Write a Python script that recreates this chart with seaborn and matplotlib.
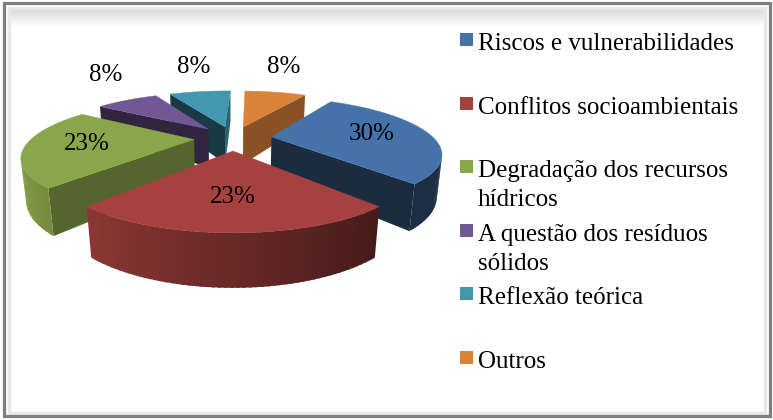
import numpy as np
import matplotlib.pyplot as plt
from matplotlib.patches import Polygon, Rectangle
import seaborn as sns

# data
categories = ["Riscos e vulnerabilidades", "Conflitos socioambientais",
              "Degradação dos recursos hídricos", "A questão dos resíduos sólidos",
              "Reflexão teórica", "Outros"]
legend_lines = [["Riscos e vulnerabilidades"], ["Conflitos socioambientais"],
                ["Degradação dos recursos", "hídricos"], ["A questão dos resíduos", "sólidos"],
                ["Reflexão teórica"], ["Outros"]]
shares = [30, 23, 23, 8, 8, 8]

sns.set_theme(style="white")
top_colors = sns.color_palette(["#4572A8", "#A5413E", "#89A64A", "#715894", "#4198AF", "#D9833A"])
plt.rcParams["font.family"] = ["Liberation Serif", "DejaVu Serif"]

# 3d pie geometry (units of pie radius)
START_ANGLE = 59.4      # slices run clockwise from here
EXPLODE = 0.24
HEIGHT = 0.26
EL = np.radians(18.3)   # camera elevation
DIST = 3.51             # camera distance
SCALE = 162
CX, CY = 233, 138
CAM = np.array([0, -DIST * np.cos(EL), DIST * np.sin(EL)])


def project(X, Y, Z):
    X, Y, Z = np.broadcast_arrays(np.asarray(X, float), np.asarray(Y, float), np.asarray(Z, float))
    yv = Y * np.sin(EL) + Z * np.cos(EL)
    zv = DIST + Y * np.cos(EL) - Z * np.sin(EL)
    return CX + SCALE * DIST * X / zv, CY - SCALE * DIST * yv / zv


def shade(rgb, f):
    return tuple(np.clip(np.array(rgb) * f, 0, 1))


fig = plt.figure(figsize=(7.73, 4.2), dpi=100)
ax = fig.add_axes([0, 0, 1, 1])
ax.set_xlim(0, 773)
ax.set_ylim(420, 0)
ax.axis("off")

# chart frame with soft inner shadow
grad = np.linspace(1, 0, 40).reshape(-1, 1)
ax.imshow(np.dstack([np.full_like(grad, 0.84)] * 3 + [grad]), extent=(8, 765, 27, 7),
          aspect="auto", interpolation="bilinear", zorder=0)
ax.add_patch(Rectangle((8.5, 7.5), 756, 405, fill=False, ec="#e8e8e8", lw=2.5, zorder=1))
ax.add_patch(Rectangle((3.5, 2.5), 766, 413.5, fill=False, ec="#7f7f7f", lw=2.3, zorder=2))

total = sum(shares)
sides, tops, labels = [], [], []
a_start = START_ANGLE
for value, col in zip(shares, top_colors):
    a1 = a_start
    a2 = a_start - value / total * 360
    a_start = a2
    mid = np.radians((a1 + a2) / 2)
    ox, oy = EXPLODE * np.cos(mid), EXPLODE * np.sin(mid)
    t = np.radians(np.linspace(a2, a1, max(int((a1 - a2) / 1.5), 4) + 1))
    step = t[1] - t[0]

    # top face
    px, py = project(np.r_[ox, ox + np.cos(t)], np.r_[oy, oy + np.sin(t)], 0)
    tops.append((np.column_stack([px, py]), col))

    # curved outer wall, in small overlapping strips
    for j in range(len(t) - 1):
        tm = (t[j] + t[j + 1]) / 2
        P = np.array([ox + np.cos(tm), oy + np.sin(tm), -HEIGHT / 2])
        n = np.array([np.cos(tm), np.sin(tm), 0])
        if n @ (CAM - P) <= 0:
            continue
        tb = min(t[j + 1] + 0.6 * step, t[-1])
        ang = [t[j], tb, tb, t[j]]
        qx, qy = project(ox + np.cos(ang), oy + np.sin(ang), [0, 0, -HEIGHT, -HEIGHT])
        f = np.clip(0.63 - 0.33 * np.cos(tm), 0.4, 0.92)
        sides.append((np.linalg.norm(CAM - P), np.column_stack([qx, qy]), shade(col, f)))

    # flat radial walls
    for a, na in ((a1, a1 + 90), (a2, a2 - 90)):
        a, na = np.radians(a), np.radians(na)
        n = np.array([np.cos(na), np.sin(na), 0])
        P = np.array([ox + 0.5 * np.cos(a), oy + 0.5 * np.sin(a), -HEIGHT / 2])
        if n @ (CAM - P) <= 0:
            continue
        xs = [ox, ox + np.cos(a), ox + np.cos(a), ox]
        ys = [oy, oy + np.sin(a), oy + np.sin(a), oy]
        qx, qy = project(xs, ys, [0, 0, -HEIGHT, -HEIGHT])
        f = np.clip(0.5 + 0.15 * np.cos(na), 0.38, 0.75)
        sides.append((np.linalg.norm(CAM - P), np.column_stack([qx, qy]), shade(col, f)))

    # percent label: inside big slices, floating above small ones
    if value >= 15:
        r_lab, z_lab = 0.64, 0.0
    else:
        r_lab, z_lab = 1.3, 0.15
    lx, ly = project(ox + r_lab * np.cos(mid), oy + r_lab * np.sin(mid), z_lab)
    labels.append((float(lx), float(ly), f"{value}%"))

for _, verts, c in sorted(sides, key=lambda s: -s[0]):
    ax.add_patch(Polygon(verts, closed=True, fc=c, ec="none", lw=0, zorder=3))
for verts, c in tops:
    ax.add_patch(Polygon(verts, closed=True, fc=c, ec=c, lw=0.3, zorder=4))
for lx, ly, txt in labels:
    ax.text(lx, ly, txt, ha="center", va="center", fontsize=18, color="black", zorder=5)

# legend
for i, (lines, col) in enumerate(zip(legend_lines, top_colors)):
    base = 50 + 63.6 * i
    ax.add_patch(Rectangle((460, base - 17), 13, 13, fc=col, ec="none", zorder=5))
    for k, line in enumerate(lines):
        ax.text(478, base + 29 * k, line, ha="left", va="baseline", fontsize=18,
                color="black", zorder=5)

fig.savefig("out.png", dpi=100)
plt.close(fig)
